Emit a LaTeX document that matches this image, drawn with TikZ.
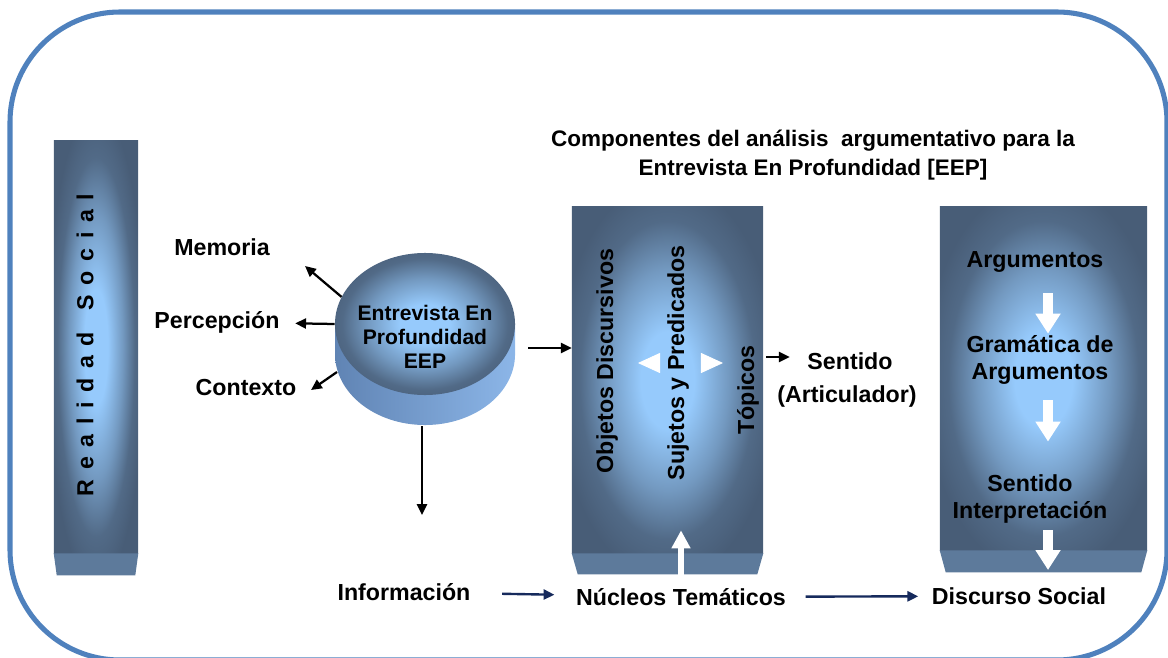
\documentclass[tikz,border=0pt]{standalone}
\usepackage{fontspec}
\setmainfont{Liberation Sans}
\usepackage{xcolor}
\usetikzlibrary{positioning,calc,arrows.meta,shapes.geometric}

\definecolor{frameblue}{RGB}{79,129,189}
\definecolor{slate}{RGB}{72,93,119}
\definecolor{sky}{RGB}{150,202,252}
\definecolor{foot}{RGB}{93,122,155}
\definecolor{navy}{RGB}{22,42,92}
\definecolor{cylL}{RGB}{96,132,180}
\definecolor{cylR}{RGB}{140,182,232}
\pgfdeclareradialshading{glow}{\pgfpoint{0bp}{0bp}}{color(0bp)=(sky); color(7bp)=(sky); color(16bp)=(sky!55!slate); color(23bp)=(slate!88!sky); color(29bp)=(slate); color(50bp)=(slate)}

\begin{document}
\begin{tikzpicture}[x=0.025cm, y=-0.025cm, >={Triangle[length=0.27cm,width=0.25cm]}, lbl/.style={font=\fontsize{16.5}{19.5}\selectfont\bfseries, align=center, inner sep=1pt}, vlbl/.style={lbl, rotate=90}, glowbox/.style={rectangle, shade, shading=glow, inner sep=0pt}, blk/.style={->, line width=1.6pt, black}, nav/.style={->, line width=1.7pt, navy}, wht/.style={-{Triangle[length=0.5cm,width=0.6cm]}, white, line width=0.25cm}, whtup/.style={-{Triangle[length=0.45cm,width=0.45cm]}, white, line width=0.15cm}, whtlr/.style={-{Triangle[length=0.55cm,width=0.5cm]}, white, line width=0.6pt}]

\useasboundingbox (0,0) rectangle (1168,657);
\begin{scope}
\clip (0,0) rectangle (1168,657);
\draw[frameblue, line width=3.6pt, rounded corners=2.75cm] (10,12) rectangle (1167,660);
\end{scope}

\node[lbl, font=\fontsize{16}{20.6}\selectfont\bfseries] (title) at (813,155) {Componentes del análisis\ \ argumentativo para la\\Entrevista En Profundidad [EEP]};

\node[glowbox, minimum width=2.1cm, minimum height=10.3cm] (rsbox) at (96,347) {};
\fill[foot] (rsbox.south west) -- (rsbox.south east) -- ++(-3,22) -- ($(rsbox.south west)+(3,22)$) -- cycle;
\node[vlbl] (rs) at (85,345) {\spaceskip=0.24cm\relax R e a l i d a d\hspace{0.55cm}S o c i a l};

\node[glowbox, minimum width=4.775cm, minimum height=8.65cm] (midbox) at (667.5,380) {};
\fill[foot] (midbox.south west) -- (midbox.south east) -- ++(-6,21) -- ($(midbox.south west)+(6,21)$) -- cycle;

\node[glowbox, minimum width=5.175cm, minimum height=8.575cm] (argbox) at (1043.5,378.5) {};
\fill[foot] (argbox.south west) -- (argbox.south east) -- ++(-6,22) -- ($(argbox.south west)+(6,22)$) -- cycle;

\shade[left color=cylL, right color=cylR] (335,324) -- (335,354) arc[start angle=180, end angle=360, x radius=2.25cm, y radius=1.775cm] -- (515,324) -- cycle;
\node[ellipse, shade, shading=glow, minimum width=4.5cm, minimum height=3.55cm, inner sep=0pt] (eep) at (425,324) {};
\node[lbl, font=\fontsize{15}{17}\selectfont\bfseries] (eeptxt) at (425,337) {Entrevista En\\Profundidad\\EEP};

\node[lbl] (mem) at (222,247) {Memoria};
\node[lbl] (per) at (217,322) {Percepción};
\node[lbl] (con) at (246,388) {Contexto};
\node[lbl] (info) at (404,592) {Información};
\node[lbl] (nuc) at (681,597) {Núcleos Temáticos};
\node[lbl] (disc) at (1019,596) {Discurso Social};

\node[vlbl] (obj) at (607,361) {Objetos Discursivos};
\node[vlbl] (suj) at (678,363) {Sujetos y Predicados};
\node[vlbl] (topi) at (748,390) {Tópicos};
\node[lbl] (sent1) at (850,361) {Sentido};
\node[lbl] (artic) at (847,396) {(Articulador)};

\node[lbl] (arg1) at (1035,262) {Argumentos};
\node[lbl] (gram) at (1040,360) {Gramática de\\Argumentos};
\node[lbl] (sint) at (1030,499) {Sentido\\Interpretación};

\coordinate (memtip) at (305,266);
\coordinate (contail) at (337,372);
\coordinate (contip) at (311,390);
\coordinate (eepbot) at (422,426);
\coordinate (infotip) at (422,515);
\coordinate (eepr) at (528,348);
\coordinate (topr) at (766,357);
\coordinate (ax) at (1048,0);
\coordinate (argbot) at (1048,570);

\path[blk]
 (eep.162) edge (memtip)
 (eep.west) edge[shorten >=0.35cm] (per)
 (contail) edge (contip)
 (eepbot) edge (infotip)
 (eepr) edge (eepr -| midbox.west)
 (topr) edge[shorten >=0.4cm] (topr -| sent1.west);

\path[nav]
 (info) edge[shorten <=0.75cm, shorten >=0.5cm] (nuc)
 (nuc) edge[shorten <=0.45cm, shorten >=0.3cm] (disc);

\path[whtlr]
 (suj) edge[shorten <=0.3cm, shorten >=0.775cm] (suj -| obj)
 (suj) edge[shorten <=0.3cm, shorten >=0.625cm] (suj -| topi);

\draw[whtup, shorten <=0.2cm] (nuc.north) -- ($(nuc.north |- midbox.south)+(0,-23)$);

\path[wht]
 (arg1.south -| ax) edge[shorten <=0.48cm] (gram.north -| ax)
 (gram.south -| ax) edge[shorten <=0.35cm, shorten >=0.78cm] (sint.north -| ax)
 (sint.south -| ax) edge[shorten <=0.12cm] (argbot);
\end{tikzpicture}
\end{document}
